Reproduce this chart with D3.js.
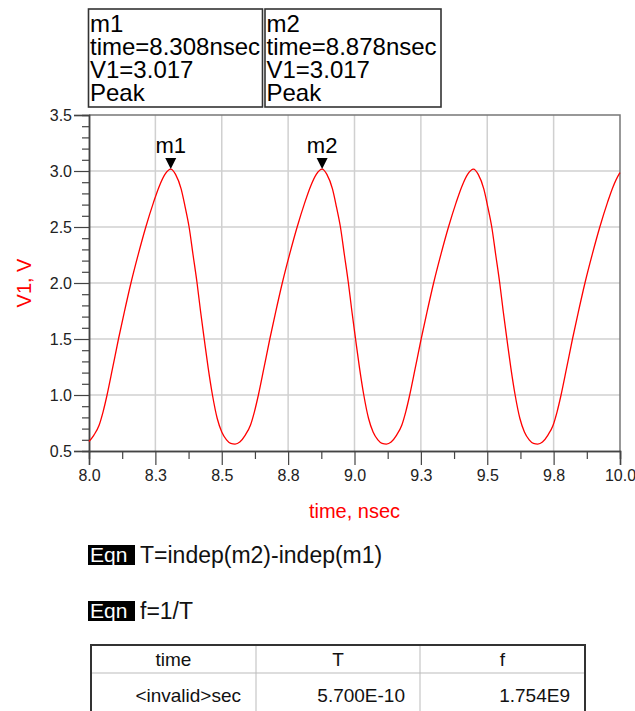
<!DOCTYPE html>
<html>
<head>
<meta charset="utf-8">
<script src="https://cdn.jsdelivr.net/npm/d3@7"></script>
<style>
  html, body { margin: 0; padding: 0; background: #fff; }
  svg { display: block; font-family: "Liberation Sans", Arial, sans-serif; }
  .tick text { font-size: 16px; font-family: "Liberation Sans", Arial, sans-serif; fill: #222; }
</style>
</head>
<body>
<svg id="chart" width="635" height="711"></svg>
<script>
// ---------------- data ----------------
const timeNs = [
  8.000, 8.018, 8.038, 8.053, 8.068, 8.088, 8.111, 8.133, 8.158, 8.186, 8.214, 8.243, 8.264, 8.286, 8.308,
  8.326, 8.347, 8.362, 8.377, 8.392, 8.407, 8.420, 8.434, 8.449, 8.465, 8.483, 8.500, 8.518, 8.534, 8.550,
  8.568, 8.588, 8.608, 8.623, 8.638, 8.658, 8.681, 8.703, 8.728, 8.756, 8.784, 8.813, 8.834, 8.856, 8.878,
  8.896, 8.917, 8.932, 8.947, 8.962, 8.977, 8.990, 9.004, 9.019, 9.035, 9.053, 9.070, 9.088, 9.104, 9.120,
  9.138, 9.158, 9.178, 9.193, 9.208, 9.228, 9.251, 9.273, 9.298, 9.326, 9.354, 9.383, 9.404, 9.426, 9.448,
  9.466, 9.487, 9.502, 9.517, 9.532, 9.547, 9.560, 9.574, 9.589, 9.605, 9.623, 9.640, 9.658, 9.674, 9.690,
  9.708, 9.728, 9.748, 9.763, 9.778, 9.798, 9.821, 9.843, 9.868, 9.896, 9.924, 9.953, 9.974, 9.996, 10.000
];
const v1Volts = [
  0.585, 0.64, 0.73, 0.85, 1.00, 1.23, 1.50, 1.74, 2.00, 2.26, 2.50, 2.72, 2.86, 2.97, 3.017,
  2.97, 2.84, 2.68, 2.50, 2.25, 2.00, 1.75, 1.50, 1.24, 1.00, 0.79, 0.67, 0.60, 0.568, 0.562,
  0.58, 0.64, 0.73, 0.85, 1.00, 1.23, 1.50, 1.74, 2.00, 2.26, 2.50, 2.72, 2.86, 2.97, 3.017,
  2.97, 2.84, 2.68, 2.50, 2.25, 2.00, 1.75, 1.50, 1.24, 1.00, 0.79, 0.67, 0.60, 0.568, 0.562,
  0.58, 0.64, 0.73, 0.85, 1.00, 1.23, 1.50, 1.74, 2.00, 2.26, 2.50, 2.72, 2.86, 2.97, 3.017,
  2.97, 2.84, 2.68, 2.50, 2.25, 2.00, 1.75, 1.50, 1.24, 1.00, 0.79, 0.67, 0.60, 0.568, 0.562,
  0.58, 0.64, 0.73, 0.85, 1.00, 1.23, 1.50, 1.74, 2.00, 2.26, 2.50, 2.72, 2.86, 2.97, 2.985
];

const markerNames  = ["m1", "m2"];
const markerTimes  = [8.308, 8.878];
const markerValues = [3.017, 3.017];
const markerKind   = ["Peak", "Peak"];

const xTicks      = [8.0, 8.25, 8.5, 8.75, 9.0, 9.25, 9.5, 9.75, 10.0];
const xTickLabels = ["8.0", "8.3", "8.5", "8.8", "9.0", "9.3", "9.5", "9.8", "10.0"];
const yTicks      = [0.5, 1.0, 1.5, 2.0, 2.5, 3.0, 3.5];
const yTickLabels = ["0.5", "1.0", "1.5", "2.0", "2.5", "3.0", "3.5"];

const xTitle = "time, nsec";
const yTitle = "V1, V";

const equations = ["T=indep(m2)-indep(m1)", "f=1/T"];
const tableHeaders = ["time", "T", "f"];
const tableRow     = ["<invalid>sec", "5.700E-10", "1.754E9"];

// ---------------- layout ----------------
const svg = d3.select("#chart");
const X0 = 89, X1 = 620, Y0 = 115, Y1 = 451;
const x = d3.scaleLinear().domain([8, 10]).range([X0, X1]);
const y = d3.scaleLinear().domain([0.5, 3.5]).range([Y1, Y0]);

const xMinor = d3.range(8.125, 10, 0.25);
const yMinor = d3.range(0.6, 3.45, 0.1).filter(v => Math.abs(v * 2 - Math.round(v * 2)) > 1e-6);

// grid
const grid = svg.append("g").attr("stroke", "#d0d0d0").attr("stroke-width", 1.5);
grid.selectAll("line.vx").data(xTicks.slice(1, -1)).join("line")
  .attr("x1", d => x(d)).attr("x2", d => x(d)).attr("y1", Y0).attr("y2", Y1);
grid.selectAll("line.hy").data(yTicks.slice(1, -1)).join("line")
  .attr("x1", X0).attr("x2", X1).attr("y1", d => y(d)).attr("y2", d => y(d));

// frame (top & right)
svg.append("path")
  .attr("d", `M${X0},${Y0}H${X1}V${Y1}`)
  .attr("fill", "none").attr("stroke", "#777").attr("stroke-width", 1.5);

// axes
function styleAxis(g) {
  g.attr("font-size", null).attr("font-family", null);
  g.select(".domain").attr("stroke", "#444").attr("stroke-width", 1.5);
  g.selectAll(".tick line").attr("stroke", "#444").attr("stroke-width", 1.2);
  g.selectAll(".tick text").style("font-size", "16px").style("fill", "#222");
}
svg.append("g").attr("transform", `translate(${X0},0)`)
  .call(d3.axisLeft(y).tickValues(yMinor).tickSize(7).tickFormat(""))
  .call(styleAxis);
svg.append("g").attr("transform", `translate(${X0},0)`)
  .call(d3.axisLeft(y).tickValues(yTicks).tickSize(15).tickPadding(2)
        .tickFormat((d, i) => yTickLabels[i]))
  .call(styleAxis);
svg.append("g").attr("transform", `translate(0,${Y1})`)
  .call(d3.axisBottom(x).tickValues(xMinor).tickSize(8).tickFormat(""))
  .call(styleAxis);
svg.append("g").attr("transform", `translate(0,${Y1})`)
  .call(d3.axisBottom(x).tickValues(xTicks).tickSize(14).tickPadding(5)
        .tickFormat((d, i) => xTickLabels[i]))
  .call(styleAxis);

// axis titles
svg.append("text").attr("x", (X0 + X1) / 2).attr("y", 518)
  .attr("text-anchor", "middle").attr("font-size", 20).attr("fill", "#ff0000").text(xTitle);
svg.append("text").attr("transform", `translate(31,${(Y0 + Y1) / 2}) rotate(-90)`)
  .attr("text-anchor", "middle").attr("font-size", 20).attr("fill", "#ff0000").text(yTitle);

// curve
const pts = timeNs.map((t, i) => [t, v1Volts[i]]);
svg.append("path").datum(pts)
  .attr("fill", "none").attr("stroke", "#ff0000").attr("stroke-width", 1.3)
  .attr("d", d3.line().x(d => x(d[0])).y(d => y(d[1])).curve(d3.curveMonotoneX));

// markers
markerNames.forEach((m, i) => {
  const px = x(markerTimes[i]), py = y(markerValues[i]);
  svg.append("path")
    .attr("d", `M${px - 5.5},${py - 11}L${px + 5.5},${py - 11}L${px},${py}Z`)
    .attr("fill", "#000");
  svg.append("text").attr("x", px).attr("y", py - 16)
    .attr("text-anchor", "middle").attr("font-size", 22).attr("fill", "#000").text(m);
});

// marker readout boxes (one multi-line text per box)
const boxX = [88.5, 265], boxW = [174, 176];
markerNames.forEach((m, i) => {
  const g = svg.append("g");
  g.append("rect").attr("x", boxX[i]).attr("y", 9).attr("width", boxW[i]).attr("height", 98)
    .attr("fill", "#fff").attr("stroke", "#333").attr("stroke-width", 1.6);
  const lines = [m, `time=${markerTimes[i].toFixed(3)}nsec`, `V1=${markerValues[i].toFixed(3)}`, markerKind[i]];
  const t = g.append("text").attr("x", boxX[i] + 1.5).attr("y", 31.5)
    .attr("font-size", 24).attr("fill", "#000");
  lines.forEach((s, k) => {
    t.append("tspan").attr("x", boxX[i] + 1.5).attr("dy", k === 0 ? 0 : 23).text(s);
  });
});

// equations
const eqY = [545, 601];
equations.forEach((e, i) => {
  svg.append("rect").attr("x", 88).attr("y", eqY[i]).attr("width", 47).attr("height", 20).attr("fill", "#000");
  svg.append("text").attr("x", 90).attr("y", eqY[i] + 17).attr("font-size", 21)
    .attr("fill", "#fff").text("Eqn");
  svg.append("text").attr("x", 140).attr("y", eqY[i] + 18).attr("font-size", 23)
    .attr("fill", "#111").text(e);
});

// table
const colX = [91, 256, 420, 585];
const tY = 645, hdrY = 673;
const tg = svg.append("g");
tg.append("line").attr("x1", colX[0]).attr("x2", colX[3]).attr("y1", hdrY).attr("y2", hdrY)
  .attr("stroke", "#bbb").attr("stroke-width", 1);
[1, 2].forEach(k => tg.append("line").attr("x1", colX[k]).attr("x2", colX[k])
  .attr("y1", tY).attr("y2", 711).attr("stroke", "#bbb").attr("stroke-width", 1));
tg.append("rect").attr("x", colX[0]).attr("y", tY).attr("width", colX[3] - colX[0]).attr("height", 90)
  .attr("fill", "none").attr("stroke", "#333").attr("stroke-width", 2);
tableHeaders.forEach((h, k) => {
  tg.append("text").attr("x", (colX[k] + colX[k + 1]) / 2).attr("y", 666)
    .attr("text-anchor", "middle").attr("font-size", 19).attr("fill", "#111").text(h);
});
tableRow.forEach((v, k) => {
  tg.append("text").attr("x", colX[k + 1] - 15).attr("y", 702)
    .attr("text-anchor", "end").attr("font-size", 19).attr("fill", "#111").text(v);
});
</script>
</body>
</html>
